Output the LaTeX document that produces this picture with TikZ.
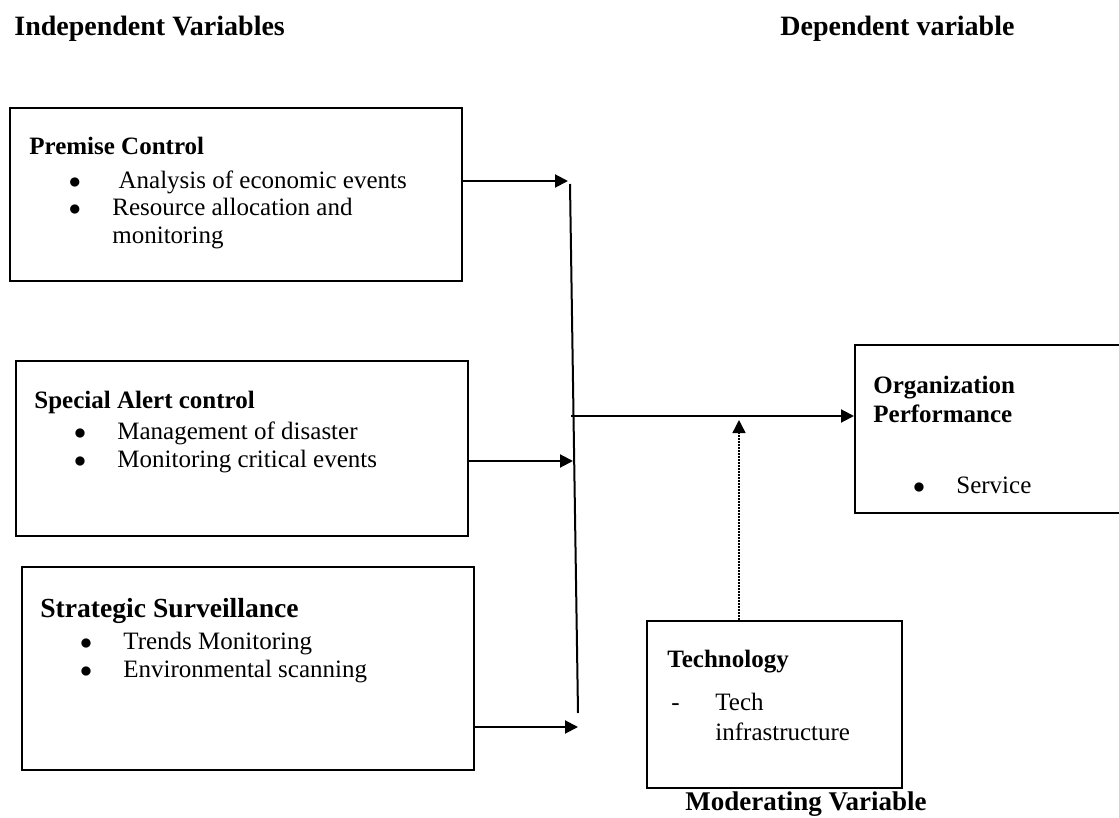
\documentclass[tikz,border=0pt]{standalone}
\usepackage{fontspec}
\setmainfont{Liberation Serif}
\usetikzlibrary{
    arrows.meta,
    calc,
    fit
}
\newcommand{\bpt}{\hspace*{19.8pt}\makebox[21.7pt][l]{$\bullet$}}
\newcommand{\bcont}{\hspace*{41.5pt}}
\tikzset{
    vbox/.style={
        draw,
        rectangle,
        line width=1pt,
        inner sep=0pt
    },
    lab/.style={
        font=\fontsize{12.5}{14}\selectfont,
        align=left,
        inner sep=0pt,
        anchor=base west
    },
    hdr/.style={
        font=\fontsize{14}{16}\selectfont\bfseries,
        inner sep=0pt,
        anchor=base west
    },
    arr/.style={
        -{Triangle[length=6.5pt,width=6.5pt]},
        line width=1pt
    },
    spine/.style={
        line width=1pt
    },
    dotarr/.style={
        -{Triangle[length=6.5pt,width=6.5pt]},
        line width=0.7pt,
        dash pattern=on 0.9pt off 0.6pt
    }
}

\begin{document}
\begin{tikzpicture}[x=0.5pt,y=-0.5pt]
\useasboundingbox (0,0) rectangle (1119,818);
% column titles
\node[hdr] (indep) at (14,36) {Independent Variables};
\node[hdr] (dep) at (780,36) {Dependent variable};
% boxes
\node[vbox, fit={(10,108) (462,281)}] (premise) {};
\node[vbox, fit={(16,361) (468,536)}] (alert) {};
\node[vbox, fit={(22,567) (474,770)}] (strat) {};
\node[vbox, fit={(855,345) (1122,513)}] (perf) {};
\node[vbox, fit={(647,621) (902,788)}] (tech) {};
% box texts (placed at the baseline of the last line)
\node[lab] (premiseT) at (29,244) {\textbf{Premise Control}\\[2.5pt]
    \bpt\ Analysis of economic events\\
    \bpt Resource allocation and\\
    \bcont monitoring};
\node[lab] (alertT) at (34,467) {\textbf{Special Alert control}\\[1.5pt]
    \bpt Management of disaster\\
    \bpt Monitoring critical events};
\node[lab] (stratT) at (40,677) {{\fontsize{13.8}{14}\selectfont\bfseries Strategic Surveillance}\\[2pt]
    \bpt Trends Monitoring\\
    \bpt Environmental scanning};
\node[lab] (perfT) at (873,493) {\textbf{Organization}\\[0.5pt]
    \textbf{Performance}\\[21.5pt]
    \bpt Service};
\node[lab] (techT) at (667,740) {\textbf{Technology}\\[7.5pt]
    \hspace*{2pt}\makebox[22pt][l]{-}Tech\\[1pt]
    \hspace*{24pt}infrastructure};
\node[hdr, font=\fontsize{13.5}{16}\selectfont\bfseries] (mod) at (685,810) {Moderating Variable};
% connectors
\coordinate (s1) at (568,181);
\coordinate (s2) at (573,461);
\coordinate (s3) at (578,727);
\coordinate (s0) at (571,416);
\coordinate (jtop) at (570,184);
\coordinate (jbot) at (578,713);
\coordinate (mtip) at (739,420);
\draw[spine] (jtop) -- (jbot);
\draw[arr] (premise.east |- s1) -- (s1);
\draw[arr] (alert.east |- s2) -- (s2);
\draw[arr] (strat.east |- s3) -- (s3);
\draw[arr] (s0) -- (s0 -| perf.west);
\draw[dotarr] (tech.north -| mtip) -- (mtip);
\end{tikzpicture}
\end{document}
